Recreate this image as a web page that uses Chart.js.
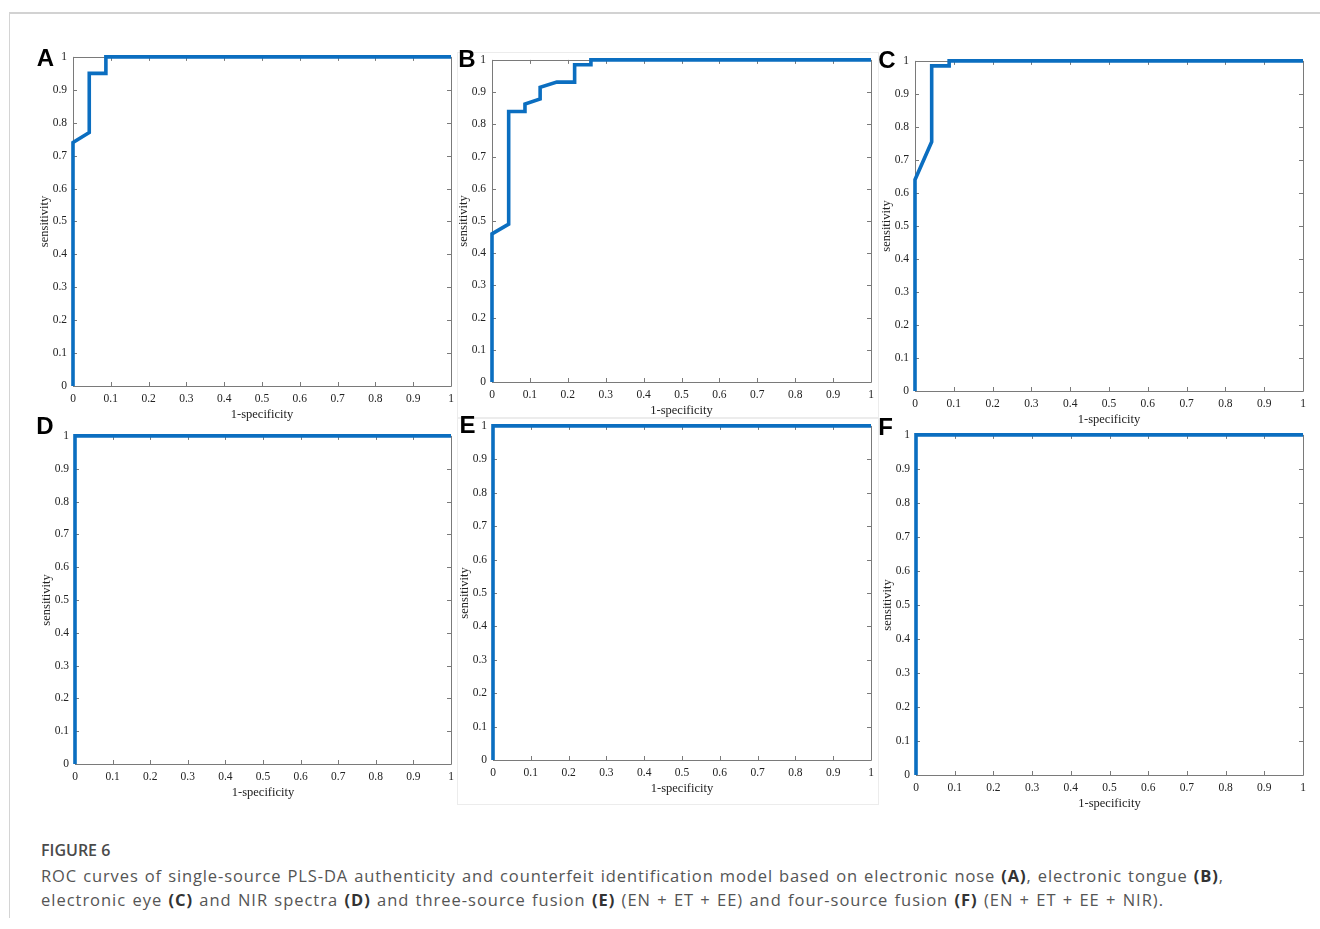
<!DOCTYPE html>
<html>
<head>
<meta charset="utf-8">
<script src="https://cdn.jsdelivr.net/npm/chart.js@4.4.1/dist/chart.umd.min.js"></script>
<style>
  html, body { margin: 0; padding: 0; background: #fff; }
  body { width: 1320px; height: 929px; position: relative; overflow: hidden; }
  .frame-top { position: absolute; left: 9px; top: 12px; width: 1311px; height: 2px; background: #d2d2d2; }
  .frame-left { position: absolute; left: 9px; top: 12px; width: 1px; height: 906px; background: #d4d4d4; }
  .panel-frame { position: absolute; border: 1px solid #ececec; }
  canvas { position: absolute; }
  .letter { position: absolute; font-family: "Liberation Sans", Arial, sans-serif; font-weight: bold;
            font-size: 24px; line-height: 24px; color: #000; transform: translateX(-50%); }
  .cap { position: absolute; left: 41px; font-family: "Open Sans", sans-serif; white-space: nowrap; }
  .cap-title { top: 839px; font-size: 16px; font-weight: 600; color: #4a4a4a; }
  .cap-line { font-size: 16.5px; color: #555; word-spacing: 1px; }
  .cap-line b { font-weight: 700; color: #333; }
</style>
</head>
<body>
<div class="frame-top"></div>
<div class="frame-left"></div>
<div class="panel-frame" style="left:457px; top:52px; width:420px; height:364px;"></div>
<div class="panel-frame" style="left:457px; top:418px; width:420px; height:385px;"></div>

<div id="charts"></div>

<div class="cap cap-title">FIGURE 6</div>
<div class="cap cap-line" style="top:864px; letter-spacing:0.88px;">ROC curves of single-source PLS-DA authenticity and counterfeit identification model based on electronic nose <b>(A)</b>, electronic tongue <b>(B)</b>,</div>
<div class="cap cap-line" style="top:888px; letter-spacing:0.98px;">electronic eye <b>(C)</b> and NIR spectra <b>(D)</b> and three-source fusion <b>(E)</b> (EN + ET + EE) and four-source fusion <b>(F)</b> (EN + ET + EE + NIR).</div>

<script>
// ROC curves: false positive rate (1-specificity) and true positive rate (sensitivity)
const fprA = [0, 0, 0.043, 0.043, 0.087, 0.087, 1];
const tprA = [0, 0.74, 0.77, 0.95, 0.95, 1, 1];

const fprB = [0, 0, 0.044, 0.044, 0.087, 0.087, 0.127, 0.127, 0.171, 0.218, 0.218, 0.261, 0.261, 1];
const tprB = [0, 0.46, 0.49, 0.84, 0.84, 0.863, 0.879, 0.915, 0.931, 0.931, 0.985, 0.985, 1, 1];

const fprC = [0, 0, 0.043, 0.043, 0.088, 0.088, 1];
const tprC = [0, 0.64, 0.755, 0.985, 0.985, 1, 1];

const fprD = [0, 0, 1];
const tprD = [0, 1, 1];

const fprE = [0, 0, 1];
const tprE = [0, 1, 1];

const fprF = [0, 0, 1];
const tprF = [0, 1, 1];

const panelLetters = ['A', 'B', 'C', 'D', 'E', 'F'];
const xTickLabels = ['0', '0.1', '0.2', '0.3', '0.4', '0.5', '0.6', '0.7', '0.8', '0.9', '1'];
const yTickLabels = ['0', '0.1', '0.2', '0.3', '0.4', '0.5', '0.6', '0.7', '0.8', '0.9', '1'];
const xAxisTitle = '1-specificity';
const yAxisTitle = 'sensitivity';

// Plot-area boxes (left, top, right, bottom) and letter anchors for each panel
const panels = [
  { fpr: fprA, tpr: tprA, box: [73, 56, 450.5, 386],   letter: [45.5, 46] },
  { fpr: fprB, tpr: tprB, box: [491.7, 59.3, 870.5, 382.5], letter: [467, 47] },
  { fpr: fprC, tpr: tprC, box: [915, 59.5, 1303.3, 390], letter: [887, 48] },
  { fpr: fprD, tpr: tprD, box: [75, 435, 450.5, 764],  letter: [45, 413.5] },
  { fpr: fprE, tpr: tprE, box: [492.7, 425, 870.5, 760], letter: [467.5, 413] },
  { fpr: fprF, tpr: tprF, box: [916, 434.3, 1303.3, 775.7], letter: [885.5, 414.5] }
];

const LINE_COLOR = '#0b6ec0';
const AXIS_COLOR = '#7a7a7a';
const LABEL_COLOR = '#222';
const SERIF = '"Liberation Serif", "Times New Roman", serif';

const Y_SCALE_W = 39;   // room left of the plot for y labels and title
const X_SCALE_H = 40;   // room under the plot for x labels and title
const PAD = { left: 8, top: 12, right: 14, bottom: 6 };

// MATLAB-style box with inward tick marks on all four sides
const boxTicks = {
  id: 'boxTicks',
  beforeDatasetsDraw(chart) {
    const { ctx, chartArea: a, scales: { x, y } } = chart;
    const tl = 4;
    ctx.save();
    ctx.strokeStyle = AXIS_COLOR;
    ctx.lineWidth = 1;
    ctx.beginPath();
    ctx.rect(Math.round(a.left) + 0.5, Math.round(a.top) + 0.5,
             Math.round(a.right - a.left), Math.round(a.bottom - a.top));
    x.ticks.forEach(t => {
      const px = Math.round(x.getPixelForValue(t.value)) + 0.5;
      ctx.moveTo(px, a.bottom); ctx.lineTo(px, a.bottom - tl);
      ctx.moveTo(px, a.top); ctx.lineTo(px, a.top + tl);
    });
    y.ticks.forEach(t => {
      const py = Math.round(y.getPixelForValue(t.value)) + 0.5;
      ctx.moveTo(a.left, py); ctx.lineTo(a.left + tl, py);
      ctx.moveTo(a.right, py); ctx.lineTo(a.right - tl, py);
    });
    ctx.stroke();
    ctx.restore();
  }
};

const host = document.getElementById('charts');

panels.forEach((p, i) => {
  const [l, t, r, b] = p.box;
  const cx = l - Y_SCALE_W - PAD.left;
  const cy = t - PAD.top;
  const cw = (r - l) + Y_SCALE_W + PAD.left + PAD.right;
  const ch = (b - t) + X_SCALE_H + PAD.top + PAD.bottom;

  const canvas = document.createElement('canvas');
  canvas.width = Math.round(cw);
  canvas.height = Math.round(ch);
  canvas.style.left = cx + 'px';
  canvas.style.top = cy + 'px';
  canvas.style.width = Math.round(cw) + 'px';
  canvas.style.height = Math.round(ch) + 'px';
  host.appendChild(canvas);

  const letter = document.createElement('div');
  letter.className = 'letter';
  letter.textContent = panelLetters[i];
  letter.style.left = p.letter[0] + 'px';
  letter.style.top = p.letter[1] + 'px';
  document.body.appendChild(letter);

  new Chart(canvas, {
    type: 'scatter',
    data: {
      datasets: [{
        data: p.fpr.map((v, k) => ({ x: v, y: p.tpr[k] })),
        showLine: true,
        borderColor: LINE_COLOR,
        backgroundColor: LINE_COLOR,
        borderWidth: 3.6,
        pointRadius: 0,
        pointHoverRadius: 0,
        tension: 0,
        borderJoinStyle: 'miter',
        clip: 6
      }]
    },
    options: {
      responsive: false,
      devicePixelRatio: 1,
      animation: false,
      events: [],
      layout: { padding: PAD },
      plugins: { legend: { display: false }, tooltip: { enabled: false } },
      scales: {
        x: {
          type: 'linear', min: 0, max: 1,
          grid: { display: false, drawTicks: false, tickLength: 0 },
          border: { display: false },
          ticks: {
            stepSize: 0.1, autoSkip: false, maxRotation: 0, padding: 6,
            color: LABEL_COLOR, font: { family: SERIF, size: 11.5 },
            callback: (v, k) => xTickLabels[k]
          },
          title: {
            display: true, text: xAxisTitle, color: LABEL_COLOR,
            font: { family: SERIF, size: 12.5 }, padding: { top: 0, bottom: 4 }
          },
          afterFit: s => { s.height = X_SCALE_H; }
        },
        y: {
          type: 'linear', min: 0, max: 1,
          grid: { display: false, drawTicks: false, tickLength: 0 },
          border: { display: false },
          ticks: {
            stepSize: 0.1, autoSkip: false, padding: 6,
            color: LABEL_COLOR, font: { family: SERIF, size: 11.5 },
            callback: (v, k) => yTickLabels[k]
          },
          title: {
            display: true, text: yAxisTitle, color: LABEL_COLOR,
            font: { family: SERIF, size: 12.5 }, padding: { top: 3, bottom: 0 }
          },
          afterFit: s => { s.width = Y_SCALE_W; }
        }
      }
    },
    plugins: [boxTicks]
  });
});
</script>
</body>
</html>
